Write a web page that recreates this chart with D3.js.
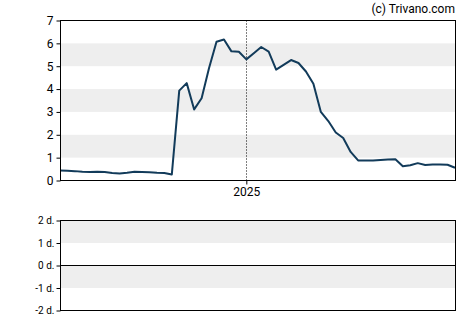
<!DOCTYPE html>
<html>
<head>
<meta charset="utf-8">
<script src="https://d3js.org/d3.v7.min.js"></script>
<style>
  body { margin: 0; background: #fff; }
  svg text { font-family: Roboto, "Liberation Sans", Arial, sans-serif; fill: #000; }
</style>
</head>
<body>
<svg id="chart" width="470" height="325"></svg>
<script>
  // weekly closes, starting 2024-07-10
  var startDate = "2024-07-10";
  var prices = [0.44, 0.43, 0.41, 0.38, 0.37, 0.38, 0.37, 0.33, 0.31, 0.34,
                0.38, 0.37, 0.36, 0.34, 0.33, 0.26, 3.93, 4.26, 3.11, 3.6,
                4.92, 6.07, 6.17, 5.65, 5.63, 5.3, 5.57, 5.84, 5.64, 4.85,
                5.06, 5.27, 5.14, 4.77, 4.23, 3.0, 2.6, 2.1, 1.86, 1.25,
                0.88, 0.87, 0.87, 0.9, 0.92, 0.93, 0.62, 0.67, 0.76, 0.68,
                0.7, 0.7, 0.69, 0.56];
  var priceTicks = [0, 1, 2, 3, 4, 5, 6, 7];
  var priceBands = [[1, 2], [3, 4], [5, 6]];
  var yearTicks = ["2025-01-01"];
  var lowerTicks = [-2, -1, 0, 1, 2];
  var lowerBands = [[1, 2], [-1, 0]];

  var parse = d3.timeParse("%Y-%m-%d");
  var t0 = parse(startDate);
  var data = prices.map(function(v, i) {
    return { date: d3.timeDay.offset(t0, i * 7), value: v };
  });

  var svg = d3.select("#chart");
  var left = 60, right = 455;

  var x = d3.scaleTime()
    .domain(d3.extent(data, function(d) { return d.date; }))
    .range([left, right]);

  // ---- main panel
  var y = d3.scaleLinear().domain([0, 7]).range([180.5, 20.5]);

  var main = svg.append("g");
  main.selectAll("rect.band")
    .data(priceBands)
    .enter().append("rect")
    .attr("x", left)
    .attr("width", right - left)
    .attr("y", function(d) { return y(d[1]); })
    .attr("height", function(d) { return y(d[0]) - y(d[1]); })
    .attr("fill", "#eeeeee");

  main.selectAll("line.year")
    .data(yearTicks)
    .enter().append("line")
    .attr("x1", function(d) { return Math.round(x(parse(d))) + 0.5; })
    .attr("x2", function(d) { return Math.round(x(parse(d))) + 0.5; })
    .attr("y1", y(7))
    .attr("y2", y(0))
    .attr("stroke", "#000")
    .attr("stroke-width", 1)
    .attr("stroke-dasharray", "1,2");

  var line = d3.line()
    .x(function(d) { return x(d.date); })
    .y(function(d) { return y(d.value); });

  main.append("path")
    .datum(data)
    .attr("d", line)
    .attr("fill", "none")
    .attr("stroke", "#123b5a")
    .attr("stroke-width", 2)
    .attr("stroke-linejoin", "round");

  main.append("rect")
    .attr("x", left + 0.5).attr("y", y(7))
    .attr("width", right - left).attr("height", y(0) - y(7))
    .attr("fill", "none").attr("stroke", "#000");

  var yAxis = main.append("g")
    .attr("transform", "translate(" + (left + 0.5) + ",0)")
    .call(d3.axisLeft(y).tickValues(priceTicks).tickSize(4).tickPadding(3).tickFormat(d3.format("d")));
  yAxis.select(".domain").remove();
  yAxis.selectAll("text").style("font-size", "12px");

  var xAxis = main.append("g")
    .attr("transform", "translate(0," + y(0) + ")")
    .call(d3.axisBottom(x).tickValues(yearTicks.map(parse)).tickSize(4).tickPadding(3).tickFormat(d3.timeFormat("%Y")));
  xAxis.select(".domain").remove();
  xAxis.selectAll("text").style("font-size", "12px");

  svg.append("text")
    .attr("x", 455).attr("y", 13)
    .attr("text-anchor", "end")
    .style("font-size", "12px")
    .text("(c) Trivano.com");

  // ---- lower panel
  var y2 = d3.scaleLinear().domain([-2, 2]).range([310.5, 220.5]);
  var lower = svg.append("g");

  lower.selectAll("rect.band")
    .data(lowerBands)
    .enter().append("rect")
    .attr("x", left)
    .attr("width", right - left)
    .attr("y", function(d) { return y2(d[1]); })
    .attr("height", function(d) { return y2(d[0]) - y2(d[1]); })
    .attr("fill", "#eeeeee");

  lower.append("line")
    .attr("x1", left).attr("x2", right)
    .attr("y1", y2(0)).attr("y2", y2(0))
    .attr("stroke", "#000");

  lower.append("rect")
    .attr("x", left + 0.5).attr("y", y2(2))
    .attr("width", right - left).attr("height", y2(-2) - y2(2))
    .attr("fill", "none").attr("stroke", "#000");

  var y2Axis = lower.append("g")
    .attr("transform", "translate(" + (left + 0.5) + ",0)")
    .call(d3.axisLeft(y2).tickValues(lowerTicks).tickSize(4).tickPadding(2)
      .tickFormat(function(d) { return d + " d."; }));
  y2Axis.select(".domain").remove();
  y2Axis.selectAll("text").style("font-size", "10px");
</script>
</body>
</html>
